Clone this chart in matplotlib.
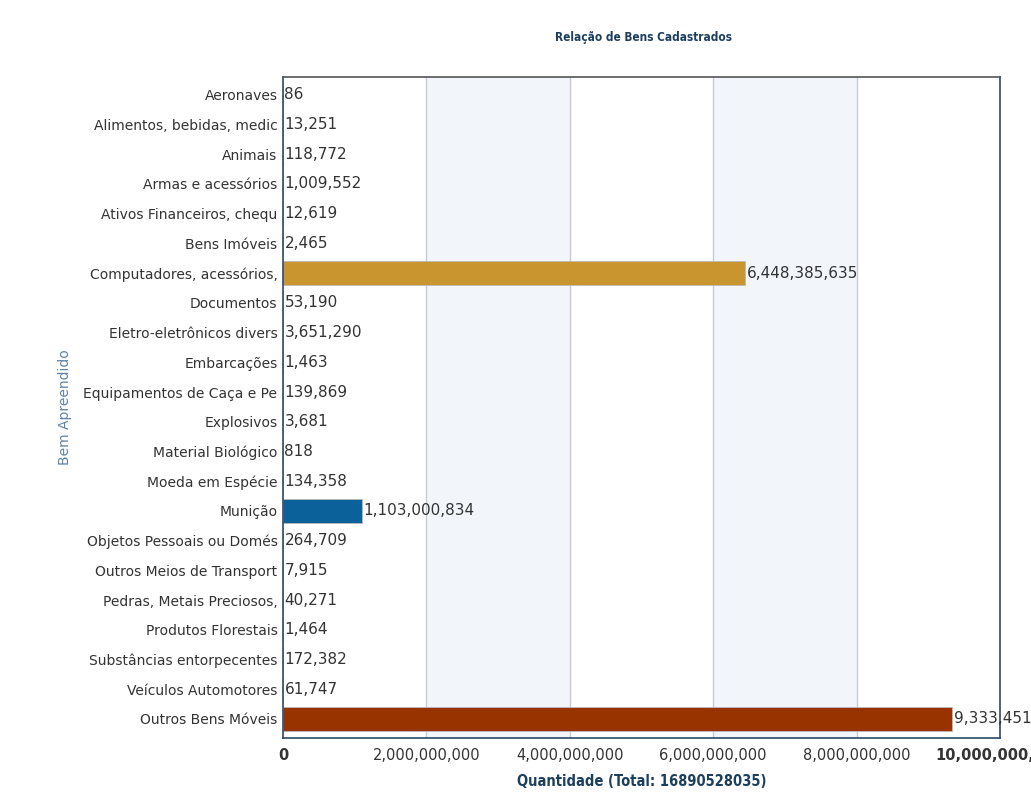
import matplotlib.pyplot as plt
from matplotlib.ticker import FuncFormatter

categorias = [
    "Aeronaves", "Alimentos, bebidas, medic", "Animais", "Armas e acessórios",
    "Ativos Financeiros, chequ", "Bens Imóveis", "Computadores, acessórios,",
    "Documentos", "Eletro-eletrônicos divers", "Embarcações",
    "Equipamentos de Caça e Pe", "Explosivos", "Material Biológico",
    "Moeda em Espécie", "Munição", "Objetos Pessoais ou Domés",
    "Outros Meios de Transport", "Pedras, Metais Preciosos,",
    "Produtos Florestais", "Substâncias entorpecentes",
    "Veículos Automotores", "Outros Bens Móveis",
]
quantidades = [
    86, 13251, 118772, 1009552, 12619, 2465, 6448385635, 53190, 3651290,
    1463, 139869, 3681, 818, 134358, 1103000834, 264709, 7915, 40271,
    1464, 172382, 61747, 9333451664,
]
cores = {6: "#c9952f", 14: "#0b629a", 21: "#983300"}
total = 16890528035
xticks = [0, 2e9, 4e9, 6e9, 8e9, 1e10]

plt.rcParams["font.family"] = ["DejaVu Sans"]

fig = plt.figure(figsize=(10.31, 8.06), dpi=100)
ax = fig.add_axes([0.2745, 0.0844, 0.6955, 0.8201])

# faixas alternadas no fundo
for i in range(len(xticks) - 1):
    if i % 2 == 1:
        ax.axvspan(xticks[i], xticks[i + 1], color="#f2f6fb", zorder=0)
for x in xticks[1:-1]:
    ax.axvline(x, color="#c5ccd6", lw=1, zorder=1)

y = list(range(len(categorias)))
cols = [cores.get(i, "#999999") for i in y]
ax.barh(y, quantidades, height=0.82, color=cols, edgecolor="#bbbbbb",
        linewidth=0.6, zorder=2)

for i, v in enumerate(quantidades):
    ax.text(v + 2e7, i, "{:,}".format(v), va="center", ha="left",
            fontsize=11, color="#333333", zorder=3)

ax.set_xlim(0, 1e10)
ax.set_ylim(len(categorias) - 0.36, -0.6)
ax.set_yticks(y)
ax.set_yticklabels(categorias, fontsize=10, color="#333333")
ax.set_xticks(xticks)
ax.xaxis.set_major_formatter(FuncFormatter(lambda v, p: "{:,}".format(int(v))))
ax.tick_params(axis="both", length=0, pad=4)
ax.tick_params(axis="x", labelsize=10.5, colors="#333333", pad=7)
xl = ax.get_xticklabels()
xl[0].set_fontweight("bold")
xl[-1].set_fontweight("bold")

for s in ax.spines.values():
    s.set_color("#2a4a66")
    s.set_linewidth(1.2)
ax.spines["top"].set_color("#555555")

ax.set_ylabel("Bem Apreendido", fontsize=10, color="#5f82a8", labelpad=8)
ax.set_xlabel("Quantidade (Total: {})".format(total), fontsize=10.5,
              fontweight="bold", color="#1d3f5e", labelpad=8,
              fontstretch="condensed")
fig.text(0.6237, 0.953, "Relação de Bens Cadastrados", ha="center",
         va="center", fontsize=8.5, fontweight="bold", color="#1d3f5e",
         fontstretch="condensed")

fig.savefig("out.png", dpi=100)
